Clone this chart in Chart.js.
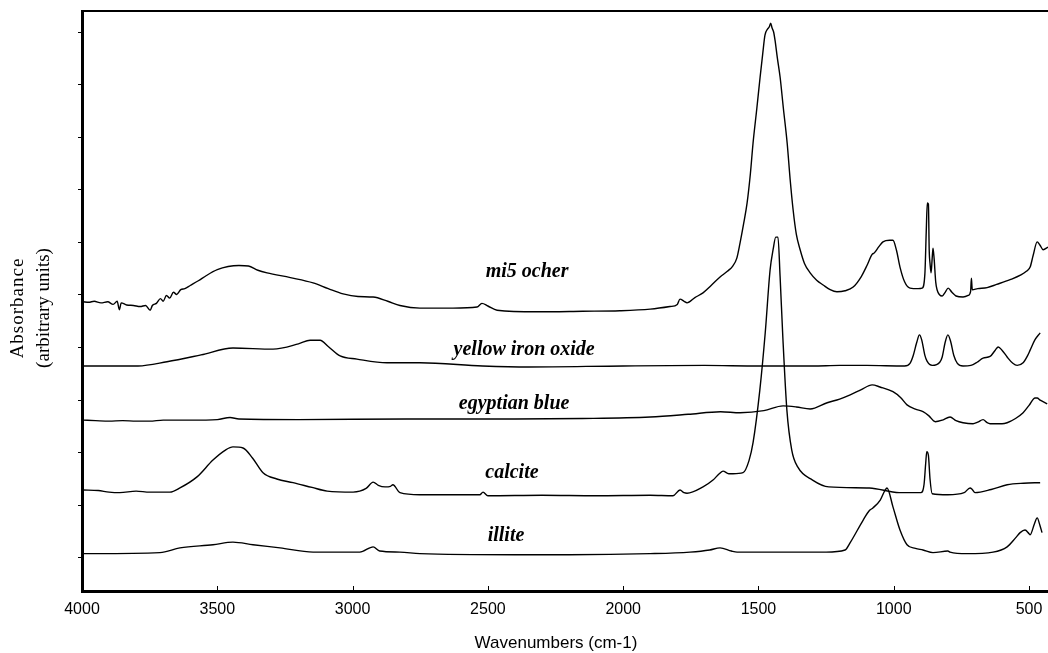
<!DOCTYPE html>
<html>
<head>
<meta charset="utf-8">
<script src="https://cdn.jsdelivr.net/npm/chart.js@4.4.1/dist/chart.umd.min.js"></script>
<style>
  html, body { margin: 0; padding: 0; background: #fff; }
  canvas { display: block; }
</style>
</head>
<body>
<canvas id="spectra" width="1048" height="653"></canvas>
<script>
// FTIR spectra, wavenumber (cm-1) vs absorbance (arbitrary, offset per sample)
const seriesNames = ["mi5 ocher", "yellow iron oxide", "egyptian blue", "calcite", "illite"];
const labelWn = [2355, 2366, 2403, 2411, 2433];
const labelAbs = [5.44, 3.95, 2.93, 1.62, 0.42];

const xTicks = [4000, 3500, 3000, 2500, 2000, 1500, 1000, 500];
const yTicks = [0, 1, 2, 3, 4, 5, 6, 7, 8, 9, 10];

const wnMi5 = [3996, 3975, 3955, 3930, 3905, 3885, 3870, 3862, 3855, 3835, 3810, 3785, 3765, 3748, 3740, 3725, 3710, 3700, 3688, 3676, 3662, 3650, 3635, 3620, 3600, 3570, 3540, 3500, 3460, 3420, 3385, 3350, 3316, 3230, 3146, 3090, 3035, 2980, 2924, 2870, 2825, 2751, 2629, 2540, 2522, 2500, 2466, 2318, 2150, 2012, 1900, 1827, 1800, 1790, 1775, 1764, 1735, 1705, 1675, 1642, 1615, 1595, 1580, 1568, 1555, 1542, 1530, 1520, 1506, 1494, 1484, 1476, 1466, 1460, 1455, 1450, 1444, 1439, 1430, 1420, 1408, 1394, 1383, 1372, 1360, 1346, 1330, 1309, 1285, 1261, 1235, 1210, 1180, 1150, 1120, 1100, 1080, 1072, 1055, 1040, 1015, 1003, 990, 977, 960, 940, 910, 895, 885, 880, 876, 872, 869, 866, 862, 858, 855, 851, 845, 840, 821, 810, 799, 785, 770, 744, 725, 716, 713, 710, 690, 655, 620, 570, 530, 510, 496, 485, 470, 460, 448, 430];
const absMi5 = [4.87, 4.86, 4.88, 4.85, 4.87, 4.82, 4.88, 4.72, 4.85, 4.81, 4.80, 4.78, 4.80, 4.71, 4.80, 4.84, 4.93, 4.88, 4.99, 4.94, 5.05, 5.01, 5.10, 5.12, 5.18, 5.27, 5.37, 5.48, 5.54, 5.56, 5.55, 5.47, 5.42, 5.33, 5.23, 5.12, 5.02, 4.97, 4.96, 4.88, 4.80, 4.75, 4.75, 4.77, 4.84, 4.79, 4.71, 4.68, 4.69, 4.70, 4.73, 4.78, 4.82, 4.92, 4.88, 4.85, 4.95, 5.04, 5.18, 5.34, 5.45, 5.55, 5.70, 5.99, 6.35, 6.75, 7.30, 7.89, 8.55, 9.14, 9.60, 9.94, 10.06, 10.10, 10.17, 10.08, 10.00, 9.85, 9.50, 9.14, 8.55, 7.89, 7.20, 6.62, 6.15, 5.86, 5.60, 5.42, 5.28, 5.19, 5.10, 5.06, 5.08, 5.15, 5.35, 5.55, 5.77, 5.80, 5.92, 6.01, 6.04, 6.04, 5.85, 5.53, 5.25, 5.13, 5.12, 5.13, 5.40, 6.20, 6.75, 6.73, 5.85, 5.60, 5.42, 5.70, 5.89, 5.70, 5.25, 5.10, 4.98, 5.05, 5.13, 5.05, 4.98, 4.96, 4.99, 5.07, 5.32, 5.10, 5.12, 5.14, 5.20, 5.29, 5.38, 5.45, 5.53, 5.75, 6.01, 5.95, 5.86, 5.91];

const wnYellow = [3996, 3793, 3686, 3560, 3442, 3294, 3200, 3157, 3120, 3090, 3046, 2984, 2873, 2751, 2520, 2350, 2000, 1700, 1500, 1300, 1200, 1100, 960, 940, 928, 915, 905, 897, 885, 877, 858, 830, 821, 810, 800, 790, 778, 765, 744, 715, 692, 670, 644, 625, 614, 600, 581, 560, 544, 522, 505, 496, 478, 459];
const absYellow = [3.65, 3.65, 3.73, 3.86, 3.99, 3.97, 4.07, 4.14, 4.14, 4.02, 3.84, 3.78, 3.71, 3.71, 3.65, 3.63, 3.65, 3.66, 3.65, 3.65, 3.66, 3.66, 3.65, 3.70, 3.85, 4.10, 4.24, 4.15, 3.85, 3.74, 3.66, 3.72, 3.82, 4.10, 4.24, 4.12, 3.85, 3.70, 3.65, 3.66, 3.72, 3.80, 3.83, 3.95, 4.01, 3.95, 3.82, 3.70, 3.66, 3.71, 3.85, 3.95, 4.15, 4.28];

const wnBlue = [3996, 3950, 3900, 3850, 3800, 3750, 3700, 3600, 3500, 3453, 3420, 3200, 2800, 2400, 2150, 1900, 1760, 1640, 1568, 1480, 1409, 1360, 1309, 1246, 1200, 1161, 1120, 1080, 1051, 1003, 975, 951, 920, 892, 870, 847, 820, 792, 770, 744, 707, 690, 670, 655, 644, 600, 581, 550, 522, 500, 478, 470, 459, 433];
const absBlue = [2.62, 2.61, 2.60, 2.61, 2.60, 2.60, 2.62, 2.62, 2.63, 2.67, 2.64, 2.63, 2.64, 2.64, 2.65, 2.68, 2.73, 2.78, 2.76, 2.80, 2.89, 2.87, 2.83, 2.95, 3.02, 3.10, 3.20, 3.29, 3.25, 3.16, 3.05, 2.91, 2.83, 2.78, 2.70, 2.59, 2.62, 2.68, 2.61, 2.57, 2.55, 2.58, 2.63, 2.57, 2.55, 2.55, 2.57, 2.65, 2.76, 2.90, 3.04, 3.04, 3.00, 2.93];

const wnCalcite = [3996, 3940, 3900, 3860, 3800, 3750, 3675, 3638, 3575, 3516, 3470, 3442, 3405, 3370, 3331, 3280, 3220, 3150, 3094, 2998, 2950, 2924, 2905, 2880, 2860, 2851, 2825, 2751, 2600, 2530, 2518, 2500, 2300, 2100, 1900, 1816, 1790, 1775, 1764, 1705, 1668, 1645, 1631, 1610, 1594, 1557, 1535, 1520, 1495, 1475, 1457, 1446, 1436, 1428, 1420, 1410, 1395, 1377, 1355, 1300, 1240, 1090, 980, 900, 888, 882, 878, 872, 866, 858, 800, 740, 718, 710, 700, 640, 581, 520, 459];
const absCalcite = [1.29, 1.28, 1.25, 1.24, 1.27, 1.25, 1.25, 1.33, 1.54, 1.86, 2.05, 2.11, 2.09, 1.90, 1.62, 1.50, 1.43, 1.34, 1.27, 1.25, 1.32, 1.44, 1.38, 1.35, 1.36, 1.39, 1.24, 1.20, 1.20, 1.20, 1.25, 1.18, 1.19, 1.18, 1.19, 1.18, 1.29, 1.24, 1.23, 1.35, 1.48, 1.60, 1.65, 1.60, 1.60, 1.62, 1.85, 2.19, 3.19, 4.28, 5.48, 5.86, 6.10, 6.10, 5.34, 4.20, 2.81, 2.05, 1.73, 1.48, 1.35, 1.33, 1.24, 1.24, 1.40, 1.80, 2.02, 1.95, 1.50, 1.22, 1.20, 1.24, 1.33, 1.30, 1.24, 1.30, 1.39, 1.42, 1.43];

const wnIllite = [3996, 3712, 3638, 3516, 3442, 3368, 3268, 3146, 2973, 2924, 2900, 2825, 2751, 2400, 2200, 1900, 1753, 1680, 1642, 1600, 1579, 1250, 1180, 1161, 1113, 1090, 1077, 1050, 1032, 1025, 1003, 977, 951, 920, 892, 855, 800, 792, 729, 633, 581, 550, 533, 515, 500, 496, 480, 470, 460, 452];
const absIllite = [0.08, 0.10, 0.19, 0.25, 0.30, 0.25, 0.19, 0.11, 0.11, 0.21, 0.13, 0.11, 0.08, 0.06, 0.06, 0.08, 0.11, 0.15, 0.19, 0.13, 0.11, 0.11, 0.15, 0.29, 0.72, 0.90, 0.95, 1.10, 1.29, 1.33, 0.97, 0.53, 0.25, 0.18, 0.15, 0.10, 0.13, 0.11, 0.08, 0.11, 0.21, 0.38, 0.48, 0.53, 0.46, 0.44, 0.65, 0.76, 0.62, 0.48];

const spectra = [
  [wnMi5, absMi5],
  [wnYellow, absYellow],
  [wnBlue, absBlue],
  [wnCalcite, absCalcite],
  [wnIllite, absIllite],
];

const toPoints = (xs, ys) => xs.map((x, i) => ({ x: x, y: ys[i] }));

// extra text + inward x tick marks
const annotate = {
  id: "annotate",
  afterDraw(chart) {
    const ctx = chart.ctx;
    const xs = chart.scales.x;
    const ys = chart.scales.y;
    const area = chart.chartArea;
    ctx.save();

    ctx.strokeStyle = "#000";
    ctx.lineWidth = 1;
    xTicks.forEach((t) => {
      const px = Math.round(xs.getPixelForValue(t)) + 0.5;
      ctx.beginPath();
      ctx.moveTo(px, area.bottom - 1);
      ctx.lineTo(px, area.bottom - 5);
      ctx.stroke();
    });

    ctx.fillStyle = "#000";
    ctx.textAlign = "center";
    ctx.textBaseline = "middle";
    ctx.font = 'italic bold 20px "Liberation Serif", "Times New Roman", serif';
    seriesNames.forEach((name, i) => {
      ctx.fillText(name, xs.getPixelForValue(labelWn[i]), ys.getPixelForValue(labelAbs[i]));
    });

    ctx.font = '17px "Liberation Sans", Arial, sans-serif';
    ctx.fillText("Wavenumbers (cm-1)", 556, 643);

    ctx.translate(0, 308);
    ctx.rotate(-Math.PI / 2);
    ctx.font = '19px "Liberation Serif", "Times New Roman", serif';
    ctx.letterSpacing = "1px";
    ctx.fillText("Absorbance", 0, 18);
    ctx.letterSpacing = "0px";
    ctx.fillText("(arbitrary units)", 0, 44);
    ctx.restore();
  },
};

new Chart(document.getElementById("spectra"), {
  type: "line",
  data: {
    datasets: spectra.map((s, i) => ({
      label: seriesNames[i],
      data: toPoints(s[0], s[1]),
      borderColor: "#000",
      borderWidth: 1.4,
      pointRadius: 0,
      fill: false,
      cubicInterpolationMode: "monotone",
    })),
  },
  options: {
    responsive: false,
    animation: false,
    devicePixelRatio: 1,
    layout: { padding: { top: 11, right: 0, left: 0, bottom: 0 } },
    plugins: { legend: { display: false }, tooltip: { enabled: false } },
    scales: {
      x: {
        type: "linear",
        reverse: true,
        min: 430,
        max: 4000,
        afterBuildTicks: (s) => { s.ticks = xTicks.map((v) => ({ value: v })); },
        afterFit: (s) => { s.height = 62; s.paddingLeft = 0; s.paddingRight = 0; },
        grid: { display: false, drawTicks: false, tickLength: 0 },
        border: { display: true, width: 3, color: "#000" },
        ticks: {
          color: "#000",
          padding: 9,
          maxRotation: 0,
          font: { family: '"Liberation Sans", Arial, sans-serif', size: 16 },
          callback: (v) => String(v),
        },
      },
      xTop: {
        type: "linear",
        position: "top",
        reverse: true,
        min: 430,
        max: 4000,
        afterFit: (s) => { s.height = 0; s.paddingLeft = 0; s.paddingRight = 0; },
        grid: { display: false, drawTicks: false },
        border: { display: true, width: 2, color: "#000" },
        ticks: { display: false },
      },
      y: {
        min: -0.63,
        max: 10.4,
        afterBuildTicks: (s) => { s.ticks = yTicks.map((v) => ({ value: v })); },
        afterFit: (s) => { s.width = 82; },
        grid: { display: true, drawOnChartArea: false, drawTicks: true, tickLength: 4, color: "#000", lineWidth: 1 },
        border: { display: true, width: 3, color: "#000" },
        ticks: { display: false },
      },
    },
  },
  plugins: [annotate],
});
</script>
</body>
</html>
